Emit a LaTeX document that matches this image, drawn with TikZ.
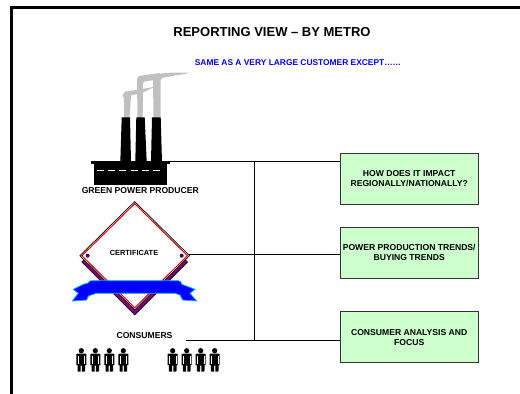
\documentclass[tikz,border=0pt]{standalone}
\usepackage{fontspec}
\setmainfont{Liberation Sans}
\usetikzlibrary{positioning, shapes.geometric}
\definecolor{boxgreen}{HTML}{CCFFCC}
\definecolor{smokegray}{HTML}{C0C0C0}
\definecolor{certpurple}{HTML}{800080}
\tikzset{
  lbl/.style={font=\fontsize{8.6}{9.6}\selectfont\bfseries, align=center, inner sep=0pt},
  reportbox/.style={draw=black!80, fill=boxgreen, line width=0.9pt, minimum width=137.5pt, minimum height=51pt, align=center, inner sep=0pt, font=\fontsize{8.6}{9.8}\selectfont\bfseries},
  link/.style={draw=black, line width=0.8pt},
  person/.pic={
    \fill[black] (0,-21) circle (2.6);
    \fill[black] (-5,-17.5) -- (-3.5,-18.2) -- (3.5,-18.2) -- (5,-17.5) -- (5,-6.5) -- (3.8,-6.5) -- (3.8,-1) -- (3.2,0) -- (0.6,0) -- (0.6,-6) -- (-0.6,-6) -- (-0.6,0) -- (-3.2,0) -- (-3.8,-1) -- (-3.8,-6.5) -- (-5,-6.5) -- cycle;
    \draw[white, line width=0.5pt] (-3.3,-16) -- (-3.3,-8) (3.3,-16) -- (3.3,-8);
  }
}
\begin{document}
\begin{tikzpicture}[x=1pt, y=-1pt]
    \useasboundingbox (0,0) rectangle (520,394);

    % Frame
    \draw[line width=2.2pt, black] (11.5,394) -- (11.5,7.5) -- (520,7.5);

    % Titles
    \node[font=\fontsize{13}{15}\selectfont\bfseries, inner sep=0pt] (title) at (272,32) {REPORTING VIEW – BY METRO};
    \node[lbl, text=blue, font=\fontsize{8.4}{9}\selectfont\bfseries] (subtitle) at (298,62.5) {SAME AS A VERY LARGE CUSTOMER EXCEPT\ldots\ldots};

    % Smoke
    \fill[smokegray] (153.5,118) -- (153,77) .. controls (153,74) and (157,74) .. (162,73.5) -- (172,72.5) -- (190,72.5) .. controls (182,75) and (176,75) .. (172,76) .. controls (166,78) and (160.5,76) .. (160.5,81) -- (160.5,118) -- cycle;
    \fill[smokegray] (137.5,118) -- (137,79) .. controls (137,76) and (139,76) .. (142,75.5) -- (160,73) -- (160,79) -- (150,80.7) .. controls (146,81.5) and (143,81) .. (143,84) -- (142.7,118) -- cycle;
    \fill[smokegray] (124,118) -- (124,98.5) -- (122.3,95) -- (125,91.7) -- (140,89.3) -- (154,87) -- (143,92.6) -- (131,95.5) -- (129.5,118) -- cycle;

    % Factory
    \fill[black] (121.7,117.3) -- (130,117.3) -- (131,162) -- (120.3,162) -- cycle;
    \fill[black] (136.3,117.3) -- (144.7,117.3) -- (146.7,162) -- (135.3,162) -- cycle;
    \fill[black] (152,117.3) -- (160.7,117.3) -- (162,162) -- (151,162) -- cycle;
    \fill[black] (93.7,163) rectangle (167.3,185);
    \node[fill=black, minimum width=79pt, minimum height=3.5pt, inner sep=0pt] (factory) at (130.5,162.5) {};
    \draw[white, line width=1pt, dash pattern=on 7pt off 4.2pt] (97,170.5) -- (164,170.5);
    \node[lbl] (producer) at (140.3,191) {GREEN POWER PRODUCER};

    % Certificate
    \node[diamond, draw=black, fill=certpurple, line width=0.6pt, minimum width=106pt, minimum height=106pt, inner sep=0pt] (certshadow) at (134.7,262) {};
    \node[diamond, draw=black, fill=white, line width=0.7pt, minimum width=110pt, minimum height=108.5pt, inner sep=0pt] (cert) at (134.7,255.7) {};
    \node[diamond, draw=red!85!black, fill=white, line width=1pt, minimum width=106pt, minimum height=104.5pt, inner sep=0pt] (certin) at (134.7,255.7) {};
    \fill[certpurple!60!black] (87.7,255.7) circle (2) (181.7,255.7) circle (2);
    \node[lbl, font=\fontsize{7.4}{8}\selectfont\bfseries] (certlabel) at (134,253) {CERTIFICATE};

    % Ribbon
    \filldraw[fill=blue, draw=cyan, line width=0.8pt] (88.3,283) .. controls (88.3,281) and (90,280.7) .. (92.7,280.7) -- (178.3,280.7) .. controls (180,280.7) and (181.7,282) .. (181.7,284.3) -- (195,289.3) -- (190,293.3) -- (196.7,301) -- (182.7,300) -- (180,295) -- (175,293.3) -- (96,293.3) -- (88.3,296) -- (86.7,300) -- (72.3,301) -- (78.3,293.3) -- (73.3,289.3) -- (83.3,284.3) -- cycle;

    % Consumers
    \node[lbl] (consumers) at (144.5,336) {CONSUMERS};
    \foreach \px in {81.3, 95.3, 109.3, 123.3, 172.7, 186.7, 200.7, 214.7}
        \pic at (\px,371.7) {person};
    \coordinate (factoryend) at (170,161);
    \coordinate (certend) at (189.3,254.3);
    \coordinate (consumerend) at (186,340.7);

    % Boxes
    \node[reportbox] (impact) at (409.2,178.5) {HOW DOES IT IMPACT\\REGIONALLY/NATIONALLY?};
    \node[reportbox] (trends) at (409.2,252.7) {POWER PRODUCTION TRENDS/\\BUYING TRENDS};
    \node[reportbox] (focus) at (409.2,337.2) {CONSUMER ANALYSIS AND\\FOCUS};

    % Connectors
    \coordinate (trunktop) at (254.5,161);
    \coordinate (trunkbot) at (254.5,340.7);
    \draw[link] (factoryend) -- (factoryend -| impact.west);
    \draw[link] (certend) -- (certend -| trends.west);
    \draw[link] (consumerend) -- (consumerend -| focus.west);
    \draw[link] (trunktop) -- (trunkbot);

\end{tikzpicture}
\end{document}
